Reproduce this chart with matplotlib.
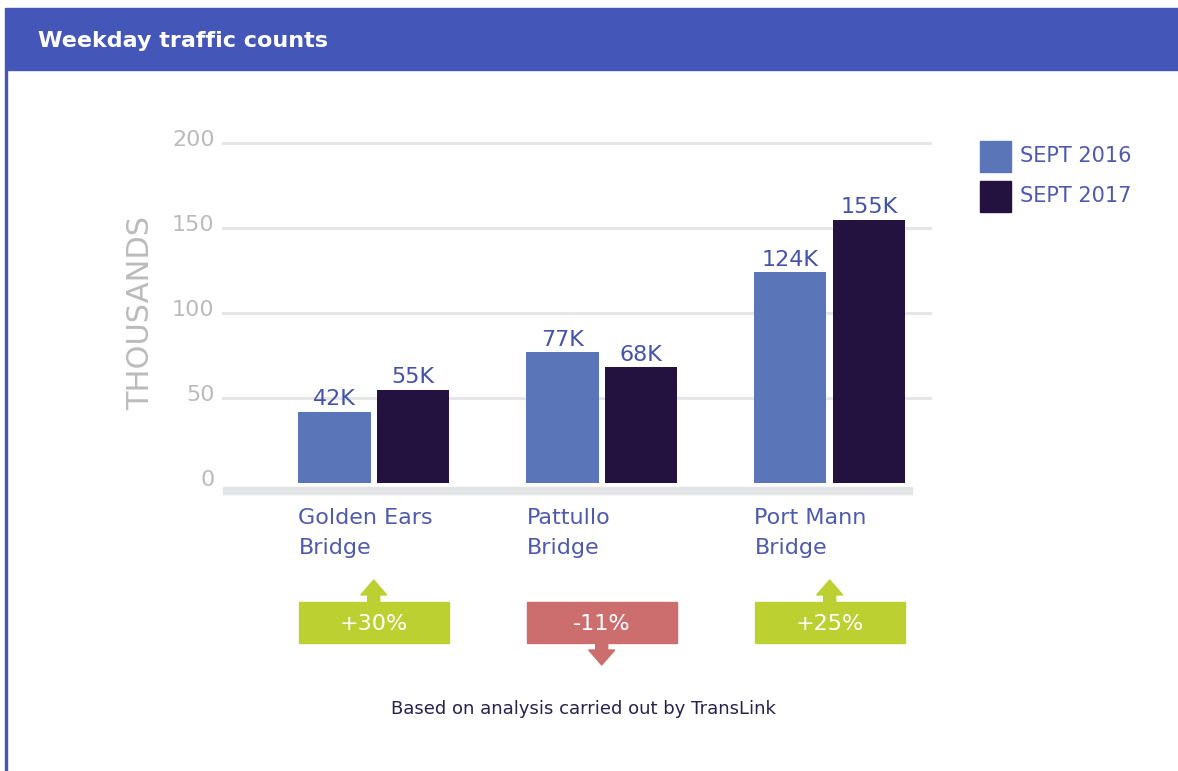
import matplotlib.pyplot as plt
import matplotlib.transforms as mtransforms
from matplotlib.patches import Rectangle, Polygon
import numpy as np

bridges = ["Golden Ears\nBridge", "Pattullo\nBridge", "Port Mann\nBridge"]
sept_2016 = [42, 77, 124]
sept_2017 = [55, 68, 155]
changes = ["+30%", "-11%", "+25%"]
change_up = [True, False, True]
y_ticks = [0, 50, 100, 150, 200]

c16 = "#5B75B9"
c17 = "#231240"
header_col = "#4457B8"
text_blue = "#4F5AAE"
green = "#BDD032"
red = "#CC6E6E"

plt.rcParams['font.family'] = ['DejaVu Sans']

fig = plt.figure(figsize=(11.78, 7.71), dpi=100)
W, H = 1178, 771

# header band and left border
fig.patches.append(Rectangle((5 / W, 1 - 70 / H), 1, 62 / H, transform=fig.transFigure,
                             color=header_col, zorder=0))
fig.patches.append(Rectangle((5 / W, 0), 2 / W, 1 - 70 / H, transform=fig.transFigure,
                             color=header_col, zorder=0))
fig.text(38 / W, 1 - 41 / H, "Weekday traffic counts", color="white", fontsize=16,
         fontweight="bold", va="center", ha="left")

ax = fig.add_axes([223 / W, 1 - 483 / H, 707 / W, 340 / H])
x = np.arange(len(bridges))
off, bw = 0.172, 0.316
b1 = ax.bar(x - off, sept_2016, bw, color=c16, zorder=3, label="SEPT 2016")
b2 = ax.bar(x + off, sept_2017, bw, color=c17, zorder=3, label="SEPT 2017")
for bars, vals in ((b1, sept_2016), (b2, sept_2017)):
    for r, v in zip(bars, vals):
        ax.text(r.get_x() + r.get_width() / 2, v + 1.5, f"{v}K", ha="center", va="bottom",
                color="#4452A8", fontsize=16)

ax.set_xlim(-0.661, 2.44)
ax.set_ylim(0, 200)
for s in ax.spines.values():
    s.set_visible(False)
for t in y_ticks[1:]:
    ax.axhline(t, color="#E6E6E6", lw=2.2, zorder=1, clip_on=False)
ax.add_patch(Rectangle((0, -0.0324), 0.9745, 0.0206, transform=ax.transAxes,
                       color="#E3E4E6", clip_on=False, zorder=1))

ax.set_yticks(y_ticks)
ax.set_yticklabels([str(t) for t in y_ticks])
ax.tick_params(axis="y", length=0, pad=6, labelsize=16, labelcolor="#BBBBBB")
shift = mtransforms.ScaledTranslation(0, 5 / 100, fig.dpi_scale_trans)
for lab in ax.get_yticklabels():
    lab.set_transform(lab.get_transform() + shift)
ax.set_xticks([])
ax.set_ylabel("THOUSANDS", fontsize=22, color="#BBBBBB", labelpad=12)

# category labels and change boxes
tr = mtransforms.blended_transform_factory(ax.transData, ax.transAxes)
ppx = 228.0  # pixels per group unit
py = 340.0
for i, name in enumerate(bridges):
    ax.text(i - off - bw / 2, (483 - 508) / py, name, transform=tr, ha="left", va="top",
            color=text_blue, fontsize=16, linespacing=1.65)
    col = green if change_up[i] else red
    bx0 = i - 75 / ppx
    ax.add_patch(Rectangle((bx0, (483 - 643) / py), 150 / ppx, 41 / py, transform=tr,
                           color=col, clip_on=False))
    if change_up[i]:
        ys, ye, yt = 602, 595, 580
    else:
        ys, ye, yt = 642, 650, 665
    sw, tw = 6 / ppx, 13 / ppx
    pts = [(i - sw, ys), (i - sw, ye), (i - tw, ye), (i, yt), (i + tw, ye), (i + sw, ye), (i + sw, ys)]
    pts = [(px, (483 - pyy) / py) for px, pyy in pts]
    ax.add_patch(Polygon(pts, closed=True, transform=tr, color=col, clip_on=False))
    ax.text(i, (483 - 624) / py, changes[i], transform=tr, ha="center", va="center",
            color="white", fontsize=16)

# legend
for j, (lab, col) in enumerate((("SEPT 2016", c16), ("SEPT 2017", c17))):
    y0 = 141 + j * 40
    fig.patches.append(Rectangle((980 / W, 1 - (y0 + 31) / H), 31 / W, 31 / H,
                                 transform=fig.transFigure, color=col))
    fig.text(1020 / W, 1 - (y0 + 15) / H, lab, color=text_blue, fontsize=15, va="center")

fig.text(583 / W, 1 - 709 / H, "Based on analysis carried out by TransLink", ha="center",
         va="center", color="#2A2050", fontsize=13)

fig.savefig("out.png", dpi=100)
